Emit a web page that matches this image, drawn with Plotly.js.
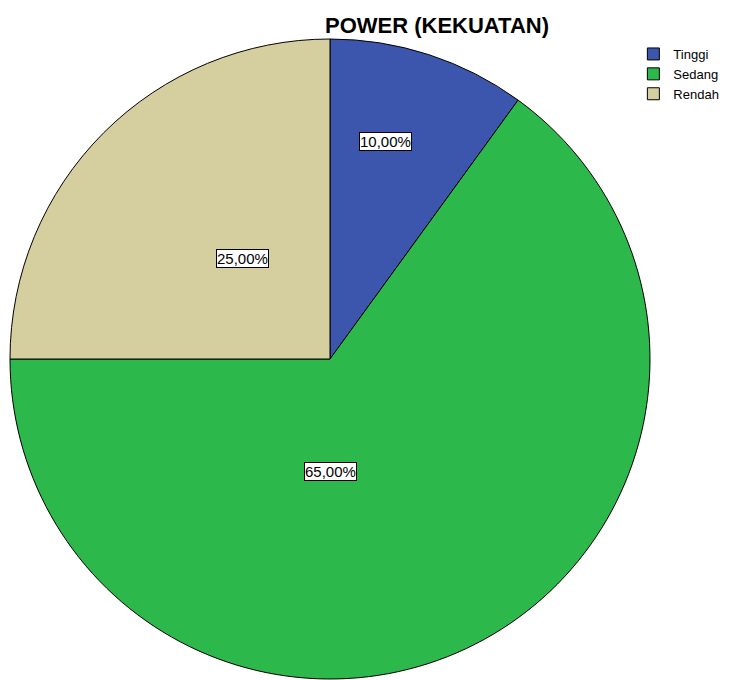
<!DOCTYPE html>
<html>
<head>
<meta charset="utf-8">
<script src="https://cdn.plot.ly/plotly-3.0.1.min.js"></script>
<style>html,body{margin:0;padding:0;background:#fff;}#chart{width:729px;height:680px;}</style>
</head>
<body>
<div id="chart"></div>
<script>
const categories = ["Tinggi", "Sedang", "Rendah"];
const percentValues = [10, 65, 25];
const sliceColors = ["#3c56ae", "#2db84b", "#d5cf9f"];
const chartTitle = "POWER (KEKUATAN)";

// label anchor positions (pixels) for each slice's boxed percentage
const labelPos = [
  {x: 385, y: 132},
  {x: 330, y: 481},
  {x: 216, y: 249}
];

const W = 729, H = 680;
const fmt = v => v.toFixed(2).replace(".", ",") + "%";

const annotations = categories.map((c, i) => ({
  xref: "paper", yref: "paper",
  x: (labelPos[i].x - 10) / 640,
  y: 1 - (labelPos[i].y - 39) / 640,
  text: fmt(percentValues[i]),
  showarrow: false,
  bgcolor: "#ffffff",
  bordercolor: "#000000",
  borderwidth: 1,
  borderpad: 0,
  font: {family: "Liberation Sans, Arial, sans-serif", size: 15, color: "#000"}
}));

const data = [{
  type: "pie",
  labels: categories,
  values: percentValues,
  sort: false,
  direction: "clockwise",
  rotation: 0,
  textinfo: "none",
  hoverinfo: "label+percent",
  marker: {colors: sliceColors, line: {color: "#000000", width: 1}}
}];

const layout = {
  width: W, height: H,
  margin: {l: 10, r: 79, t: 39, b: 1, pad: 0, autoexpand: false},
  paper_bgcolor: "#ffffff",
  title: {
    text: "<b>" + chartTitle + "</b>",
    font: {family: "Liberation Sans, Arial, sans-serif", size: 22, color: "#000"},
    x: 437 / W, xanchor: "center",
    y: 1 - 25 / H, yanchor: "middle"
  },
  showlegend: true,
  legend: {
    x: 0.974, xanchor: "left",
    y: 1.0, yanchor: "top",
    font: {family: "Liberation Sans, Arial, sans-serif", size: 13, color: "#000"},
    itemwidth: 30,
    tracegroupgap: 0,
    bgcolor: "rgba(0,0,0,0)"
  },
  annotations: annotations
};

Plotly.newPlot("chart", data, layout, {displayModeBar: false, staticPlot: true});
</script>
</body>
</html>
